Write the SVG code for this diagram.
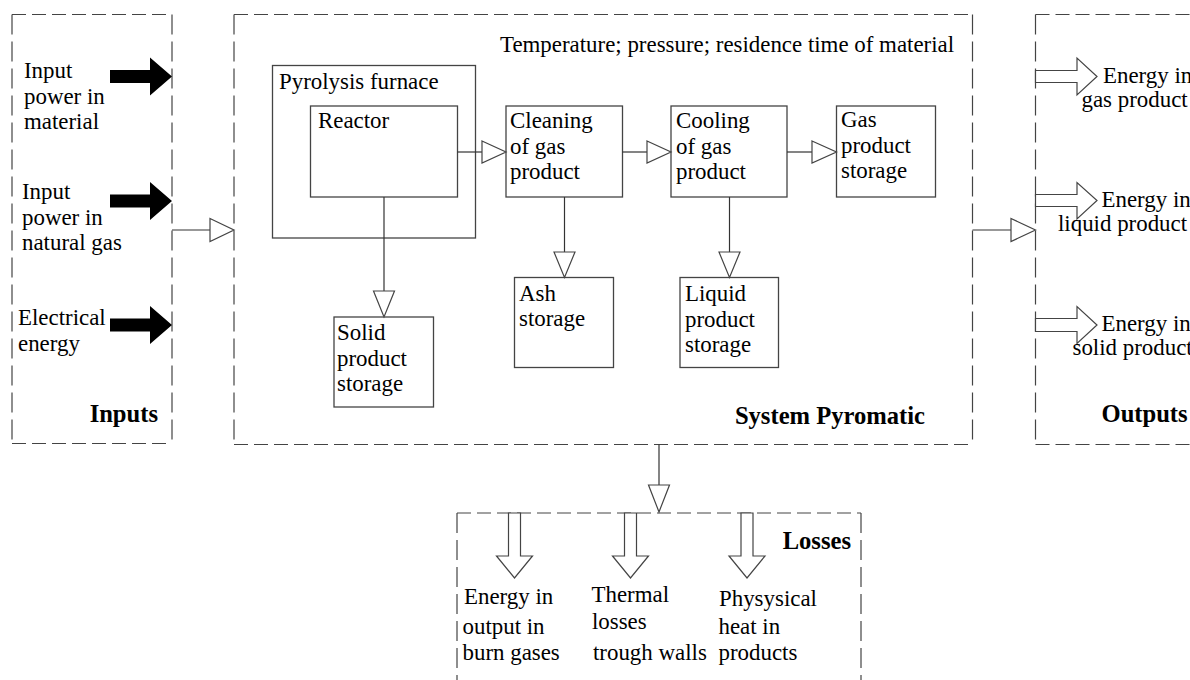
<svg xmlns="http://www.w3.org/2000/svg" width="1190" height="680" viewBox="0 0 1190 680">
<defs>
<style>
text{font-family:"Liberation Serif","Times New Roman",serif;font-size:22.9px;fill:#000}
.b{font-weight:bold;font-size:24.6px}
.dh{fill:none;stroke:#444;stroke-width:1.2;stroke-dasharray:14 6}
.dv{fill:none;stroke:#444;stroke-width:1.2;stroke-dasharray:20 7}
.box{fill:#fff;stroke:#444;stroke-width:1.3}
.ln{fill:none;stroke:#333;stroke-width:1.2}
.tri{fill:#fff;stroke:#444;stroke-width:1.2}
.blk{fill:#000;stroke:none}
</style>
</defs>

<g id="inputs">
<path class="dh" d="M12,14.5 H172 M12,443.5 H172"/>
<path class="dv" d="M12,14.5 V443.5 M172,14.5 V443.5"/>
<text x="24" y="78">Input</text>
<text x="24" y="103.5">power in</text>
<text x="24" y="129">material</text>
<text x="22" y="199">Input</text>
<text x="22" y="224.5">power in</text>
<text x="22" y="250">natural gas</text>
<text x="18" y="325">Electrical</text>
<text x="18" y="351">energy</text>
<text class="b" x="158" y="422" text-anchor="end">Inputs</text>
<polygon class="blk" points="110,70 150,70 150,57.5 172,76.5 150,95.5 150,83 110,83"/>
<polygon class="blk" points="110,194.5 150,194.5 150,182 172,201 150,220 150,207.5 110,207.5"/>
<polygon class="blk" points="110,318.5 150,318.5 150,306 172,325 150,344 150,331.5 110,331.5"/>
</g>

<g id="system">
<path class="dh" d="M234,14.5 H972.5 M234,444.5 H972.5"/>
<path class="dv" d="M234,14.5 V444.5 M972.5,14.5 V444.5"/>
<text x="500" y="52">Temperature; pressure; residence time of material</text>
<text class="b" x="925" y="424" text-anchor="end">System Pyromatic</text>
</g>

<g id="furnace">
<rect class="box" x="272.5" y="65.5" width="203" height="172.5"/>
<text x="279" y="89">Pyrolysis furnace</text>
</g>
<g id="reactor">
<rect class="box" x="310.5" y="106" width="147" height="91"/>
<text x="318" y="128">Reactor</text>
</g>
<g id="cleaning">
<rect class="box" x="506" y="106" width="116.5" height="91"/>
<text x="510" y="128">Cleaning</text>
<text x="510" y="153.5">of gas</text>
<text x="510" y="179">product</text>
</g>
<g id="cooling">
<rect class="box" x="671" y="106" width="116" height="91"/>
<text x="676" y="128">Cooling</text>
<text x="676" y="153.5">of gas</text>
<text x="676" y="179">product</text>
</g>
<g id="gas-storage">
<rect class="box" x="836.5" y="106" width="99" height="91"/>
<text x="841" y="127">Gas</text>
<text x="841" y="153">product</text>
<text x="841" y="178">storage</text>
</g>
<g id="solid-storage">
<rect class="box" x="334" y="317" width="99.5" height="90"/>
<text x="337" y="340">Solid</text>
<text x="337" y="365.5">product</text>
<text x="337" y="391">storage</text>
</g>
<g id="ash-storage">
<rect class="box" x="514.5" y="277.5" width="99" height="90"/>
<text x="519" y="300.5">Ash</text>
<text x="519" y="326">storage</text>
</g>
<g id="liquid-storage">
<rect class="box" x="680" y="277.5" width="98.5" height="90"/>
<text x="685" y="301">Liquid</text>
<text x="685" y="326.5">product</text>
<text x="685" y="352">storage</text>
</g>

<g id="outputs">
<path class="dh" d="M1035.5,14.5 H1200 M1035.5,444.5 H1200"/>
<path class="dv" d="M1035.5,14.5 V444.5"/>
<polygon class="tri" points="1035.5,70.5 1077,70.5 1077,58 1097,76.5 1077,95 1077,82.5 1035.5,82.5"/>
<polygon class="tri" points="1035.5,194.5 1077,194.5 1077,182.5 1097,200.5 1077,219 1077,206.5 1035.5,206.5"/>
<polygon class="tri" points="1035.5,318.5 1077,318.5 1077,306.5 1097,325 1077,343.5 1077,331.5 1035.5,331.5"/>
<text x="1103" y="82.5">Energy in</text>
<text x="1081.5" y="106.5">gas product</text>
<text x="1101.5" y="207">Energy in</text>
<text x="1058" y="230.5">liquid product</text>
<text x="1101.5" y="330.5">Energy in</text>
<text x="1072.5" y="355">solid product</text>
<text class="b" x="1101.5" y="422">Outputs</text>
</g>

<g id="losses">
<path class="dh" d="M457,513 H861"/>
<path class="dv" d="M457,513 V690 M861,513 V690"/>
<text class="b" x="851" y="548.5" text-anchor="end">Losses</text>
<polygon class="tri" points="508.5,513 520.5,513 520.5,556 532.5,556 514.5,578 496.5,556 508.5,556"/>
<polygon class="tri" points="624.5,513 636.5,513 636.5,556 648.5,556 630.5,578 612.5,556 624.5,556"/>
<polygon class="tri" points="741,513 753,513 753,556 765,556 747,578 729,556 741,556"/>
<text x="464" y="604">Energy in</text>
<text x="462.5" y="634">output in</text>
<text x="462.5" y="660">burn gases</text>
<text x="591.5" y="602">Thermal</text>
<text x="592" y="628.5">losses</text>
<text x="593" y="660">trough walls</text>
<text x="719" y="606">Physysical</text>
<text x="718.5" y="634">heat in</text>
<text x="718.5" y="660">products</text>
</g>

<g id="connectors">
<path class="ln" d="M172,230 H210"/>
<polygon class="tri" points="210,218.5 234,230 210,241.5"/>
<path class="ln" d="M457.5,152 H482"/>
<polygon class="tri" points="482,141 506,152 482,163"/>
<path class="ln" d="M622.5,152 H647"/>
<polygon class="tri" points="647,141 671,152 647,163"/>
<path class="ln" d="M787,152 H812"/>
<polygon class="tri" points="812,141 836.5,152 812,163"/>
<path class="ln" d="M384,197 V291"/>
<polygon class="tri" points="373.5,291 394.5,291 384,317"/>
<path class="ln" d="M564.5,197 V252"/>
<polygon class="tri" points="554,252 575,252 564.5,277.5"/>
<path class="ln" d="M729.5,197 V252"/>
<polygon class="tri" points="719,252 740,252 729.5,277.5"/>
<path class="ln" d="M972.5,230 H1011"/>
<polygon class="tri" points="1011,218.5 1035.5,230 1011,241.5"/>
<path class="ln" d="M659,444.5 V485"/>
<polygon class="tri" points="648.5,485 669.5,485 659,512"/>
</g>
</svg>
